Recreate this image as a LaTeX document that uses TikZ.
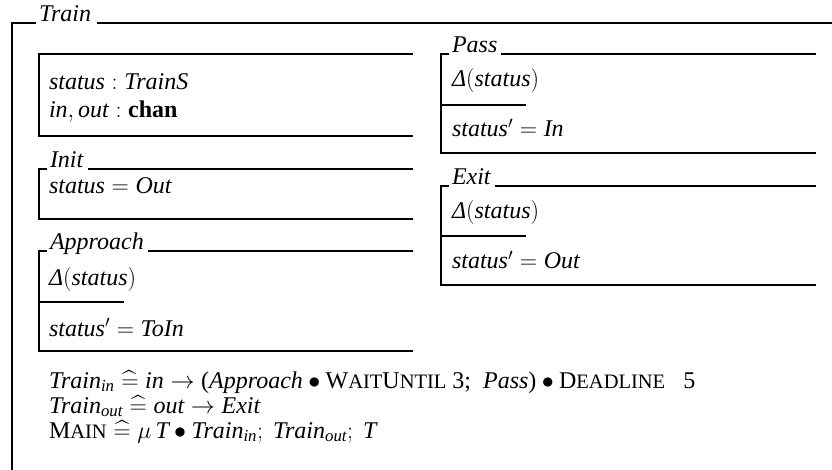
\documentclass[tikz,border=0pt]{standalone}
\usepackage{fix-cm}
\usepackage{amsmath}
\usepackage{fontspec}
\setmainfont{Liberation Serif}
\usetikzlibrary{calc}
\newcommand\zv[1]{\textit{#1}}
\newcommand\smc[1]{{\fontsize{20.5pt}{29pt}\selectfont #1}}
\newcommand\zbox[7]{%
  \node[ztitle] (#1) at (#3+11,#5-1) {\zv{#2}};
  \draw[zline] ($(#1.base west)+(-3,1)$) -- (#3,#5) -- (#3,#6) -- (#4,#6);
  \draw[zline] ($(#1.base east)+(4,1)$) -- (#4,#5);
  \draw[zline] (#3,#7) -- (#3+85,#7);
}
\tikzset{
  zline/.style={line width=2.6pt, line join=miter},
  ztitle/.style={anchor=base west, inner sep=0pt, outer sep=0pt},
  ztxt/.style={anchor=base west, inner sep=0pt, outer sep=0pt},
}
\begin{document}
\begin{tikzpicture}[x=1pt,y=-1pt,font=\fontsize{24pt}{29pt}\selectfont]
\useasboundingbox (0,0) rectangle (832,470);
% outer Train schema
\node[ztitle] (trainT) at (39,22) {\zv{Train}};
\draw[zline] (12,474) -- (12,23) -- ($(trainT.base west)+(-3,1)$);
\draw[zline] ($(trainT.base east)+(6,1)$) -- (836,23);
% state
\draw[zline] (413,54) -- (39,54) -- (39,136) -- (413,136);
\node[ztxt] (s1) at (49,90) {$\zv{status} : \zv{TrainS}$};
\node[ztxt] (s2) at (49,118) {$\zv{in}, \zv{out} : \textbf{chan}$};
% Init
\node[ztitle] (initT) at (50,168) {\zv{Init}};
\draw[zline] ($(initT.base west)+(-3,1)$) -- (39,169) -- (39,219) -- (413,219);
\draw[zline] ($(initT.base east)+(4,1)$) -- (413,169);
\node[ztxt] (i1) at (49,194) {$\zv{status} = \zv{Out}$};
% Approach
\zbox{apprT}{Approach}{39}{413}{251}{351}{302}
\node[ztxt] (a1) at (49,285) {$\zv{Δ}(\zv{status})$};
\node[ztxt] (a2) at (49,336) {$\zv{status}' = \zv{ToIn}$};
% Pass
\zbox{passT}{Pass}{441}{816}{54}{153}{105}
\node[ztxt] (p1) at (452,87) {$\zv{Δ}(\zv{status})$};
\node[ztxt] (p2) at (452,137) {$\zv{status}' = \zv{In}$};
% Exit
\zbox{exitT}{Exit}{441}{816}{186}{285}{236}
\node[ztxt] (e1) at (452,219) {$\zv{Δ}(\zv{status})$};
\node[ztxt] (e2) at (452,269) {$\zv{status}' = \zv{Out}$};
% process definitions
\node[ztxt] (l1) at (49,388) {$\zv{Train}_{\zv{in}} \mathrel{\widehat{=}} \zv{in} \rightarrow \text{(}\zv{Approach} \bullet \text{W\smc{AIT}U\smc{NTIL}}\ \text{3;}\ \ \zv{Pass}\text{)} \bullet \text{D\smc{EADLINE}}\ \ \ \text{5}$};
\node[ztxt] (l2) at (49,413) {$\zv{Train}_{\zv{out}} \mathrel{\widehat{=}} \zv{out} \rightarrow \zv{Exit}$};
\node[ztxt] (l3) at (49,438) {$\text{M\smc{AIN}} \mathrel{\widehat{=}} \mu\, \zv{T} \bullet \zv{Train}_{\zv{in}};\ \zv{Train}_{\zv{out}};\ \zv{T}$};
\end{tikzpicture}
\end{document}
